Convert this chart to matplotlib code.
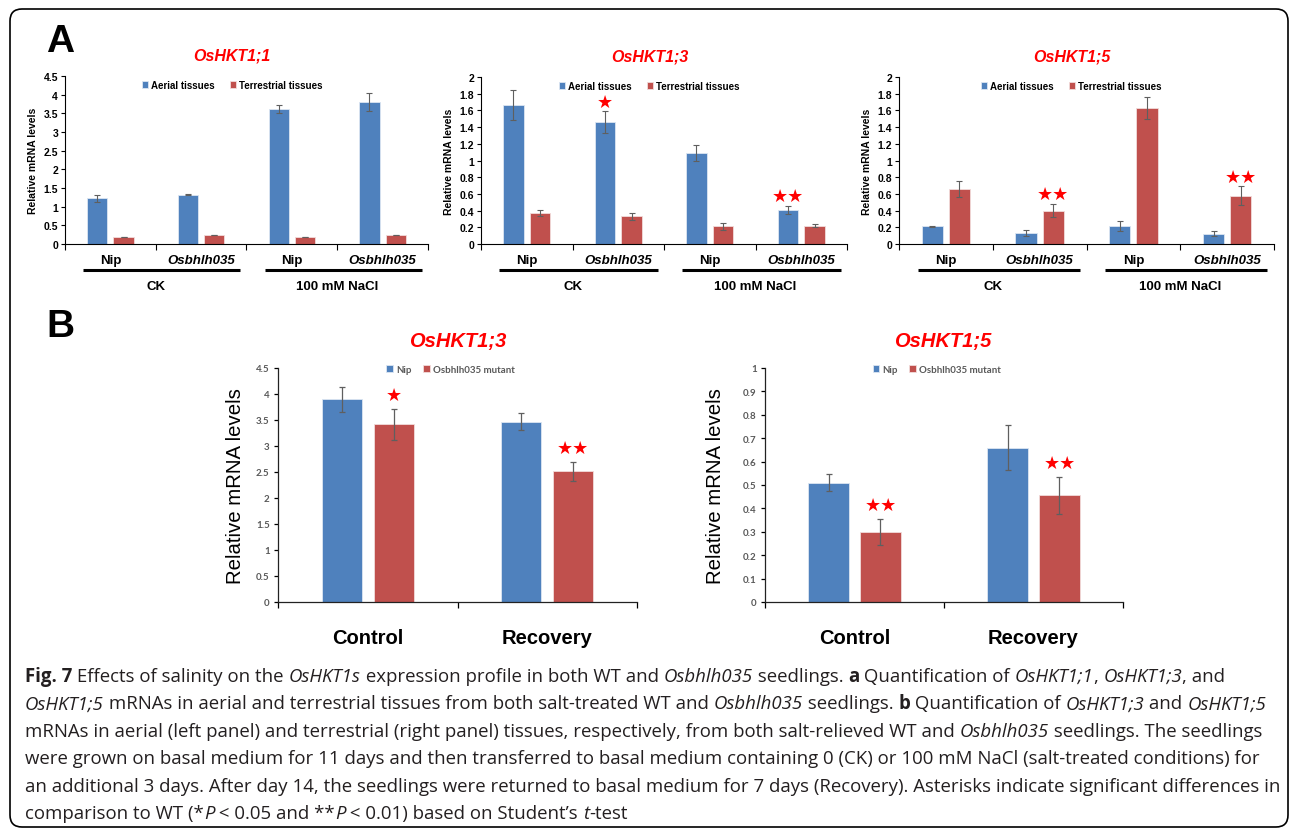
import numpy as np
import matplotlib
matplotlib.use('Agg')
from matplotlib import pyplot as plt
from matplotlib import patches, transforms
from matplotlib.lines import Line2D

W, H = 1290, 829

# ---------------- panel A data ----------------
genotypes_a = ['Nip', 'Osbhlh035', 'Nip', 'Osbhlh035']
conditions_a = ['CK', '100 mM NaCl']
legend_a = ['Aerial tissues', 'Terrestrial tissues']

hkt11_aerial = [1.22, 1.32, 3.62, 3.80]
hkt11_aerial_err = [0.09, 0.01, 0.10, 0.24]
hkt11_terr = [0.19, 0.24, 0.19, 0.24]
hkt11_terr_err = [0.01, 0.01, 0.01, 0.01]
hkt11_sig_aerial = ['', '', '', '']
hkt11_sig_terr = ['', '', '', '']

hkt13_aerial = [1.67, 1.46, 1.09, 0.41]
hkt13_aerial_err = [0.18, 0.13, 0.09, 0.05]
hkt13_terr = [0.37, 0.33, 0.21, 0.22]
hkt13_terr_err = [0.04, 0.04, 0.04, 0.02]
hkt13_sig_aerial = ['', '*', '', '**']
hkt13_sig_terr = ['', '', '', '']

hkt15_aerial = [0.21, 0.13, 0.21, 0.12]
hkt15_aerial_err = [0.005, 0.04, 0.06, 0.03]
hkt15_terr = [0.66, 0.40, 1.63, 0.58]
hkt15_terr_err = [0.10, 0.08, 0.13, 0.11]
hkt15_sig_aerial = ['', '', '', '']
hkt15_sig_terr = ['', '**', '', '**']

# ---------------- panel B data ----------------
treatments_b = ['Control', 'Recovery']
legend_b = ['Nip', 'Osbhlh035 mutant']

b13_nip = [3.90, 3.47]
b13_nip_err = [0.24, 0.17]
b13_mut = [3.42, 2.51]
b13_mut_err = [0.30, 0.19]
b13_sig = ['*', '**']

b15_nip = [0.51, 0.66]
b15_nip_err = [0.035, 0.097]
b15_mut = [0.30, 0.456]
b15_mut_err = [0.055, 0.078]
b15_sig = ['**', '**']

caption = [
    [('Fig. 7', 'b'), (' Effects of salinity on the ', ''), ('OsHKT1s', 'i'),
     (' expression profile in both WT and ', ''), ('Osbhlh035', 'i'), (' seedlings. ', ''),
     ('a', 'b'), (' Quantification of ', ''), ('OsHKT1;1', 'i'), (', ', ''),
     ('OsHKT1;3', 'i'), (', and', '')],
    [('OsHKT1;5', 'i'), (' mRNAs in aerial and terrestrial tissues from both salt-treated WT and ', ''),
     ('Osbhlh035', 'i'), (' seedlings. ', ''), ('b', 'b'), (' Quantification of ', ''),
     ('OsHKT1;3', 'i'), (' and ', ''), ('OsHKT1;5', 'i')],
    [('mRNAs in aerial (left panel) and terrestrial (right panel) tissues, respectively, '
      'from both salt-relieved WT and ', ''), ('Osbhlh035', 'i'), (' seedlings. The seedlings', '')],
    [('were grown on basal medium for 11 days and then transferred to basal medium containing '
      '0 (CK) or 100 mM NaCl (salt-treated conditions) for', '')],
    [('an additional 3 days. After day 14, the seedlings were returned to basal medium for 7 days '
      '(Recovery). Asterisks indicate significant differences in', '')],
    [('comparison to WT (*', ''), ('P', 'i'), (' < 0.05 and **', ''), ('P', 'i'),
     (' < 0.01) based on Student\u2019s ', ''), ('t', 'i'), ('-test', '')],
]

BLUE = '#4f81bd'
RED = '#c0504d'
ERR = '#5f5f5f'
ARIAL = 'Liberation Sans'
CAP_FONT = 'Open Sans'


def px_axes(fig, x0, y0, x1, y1):
    return fig.add_axes([x0 / W, 1 - y1 / H, (x1 - x0) / W, (y1 - y0) / H])


def draw_bars(ax, a, a_err, b, b_err, labels, capsize, elw):
    x = np.arange(len(a))
    ekw = dict(ecolor=ERR, elinewidth=elw, capsize=capsize, capthick=elw)
    ax.bar(x - 0.145, a, 0.225, color=BLUE, edgecolor='#dce6f2', linewidth=0.6,
           yerr=a_err, error_kw=ekw, label=labels[0])
    ax.bar(x + 0.145, b, 0.225, color=RED, edgecolor='#f2dcdb', linewidth=0.6,
           yerr=b_err, error_kw=ekw, label=labels[1])


def draw_stars(ax, xs, tops, errs, marks, dy):
    for x, t, e, m in zip(xs, tops, errs, marks):
        if m:
            ax.annotate('\u2605' * len(m), (x, t + e), xytext=(0, dy),
                        textcoords='offset points', ha='center', va='center',
                        color='#ff0000', fontsize=13, family='DejaVu Sans')


def panel_a(ax, title, aerial, aerial_err, terr, terr_err, sig_a, sig_t, ymax, step):
    x = np.arange(4)
    draw_bars(ax, aerial, aerial_err, terr, terr_err, legend_a, 2.2, 0.8)
    draw_stars(ax, x - 0.145, aerial, aerial_err, sig_a, 7)
    draw_stars(ax, x + 0.145, terr, terr_err, sig_t, 7)

    ax.set_xlim(-0.5, 3.5)
    ax.set_ylim(0, ymax)
    ax.set_yticks(np.arange(0, ymax + step / 2, step))
    ax.yaxis.set_major_formatter(lambda v, p: f'{v:g}')
    for s in ['top', 'right']:
        ax.spines[s].set_visible(False)
    for s in ['left', 'bottom']:
        ax.spines[s].set_linewidth(0.8)

    ax.set_xticks(x)
    ax.set_xticklabels(genotypes_a, fontsize=9.5, fontweight='bold', family=ARIAL)
    for lab in ax.get_xticklabels():
        if lab.get_text() != 'Nip':
            lab.set_fontstyle('italic')
    ax.set_xticks(np.arange(-0.5, 4, 1), minor=True)
    ax.tick_params(axis='x', which='major', length=0, pad=7)
    ax.tick_params(axis='x', which='minor', length=4, width=0.8, direction='out')
    ax.tick_params(axis='y', length=3, width=0.8, pad=2)
    for lab in ax.get_yticklabels():
        lab.set_fontsize(7.5)
        lab.set_fontweight('bold')
        lab.set_family(ARIAL)

    axw = ax.get_position().width * W
    axh = ax.get_position().height * H
    ax.set_ylabel('Relative mRNA levels', fontsize=7.5, fontweight='bold', family=ARIAL)
    ax.yaxis.set_label_coords(-27 / axw, 0.5)

    tr = ax.get_xaxis_transform()
    for i, cond in enumerate(conditions_a):
        ax.add_line(Line2D([2 * i - 0.3, 2 * i + 1.43], [-26 / axh, -26 / axh], transform=tr,
                           color='k', lw=2.2, clip_on=False, solid_capstyle='butt'))
        ax.text(2 * i + 0.5, -42 / axh, cond, transform=tr, ha='center', va='center',
                fontsize=9.5, fontweight='bold', family=ARIAL)

    ax.text(0.46, 1 + 21 / axh, title, transform=ax.transAxes, ha='center', va='center',
            fontsize=11.5, fontweight='bold', fontstyle='italic', color='#ff0000', family=ARIAL)
    ax.legend(ncol=2, loc='upper center', bbox_to_anchor=(0.46, 1.0), frameon=False,
              prop=dict(family=ARIAL, weight='bold', size=7), handlelength=0.6,
              handleheight=0.6, handletextpad=0.3, columnspacing=1.6, borderaxespad=0.0)


def panel_b(ax, title, nip, nip_err, mut, mut_err, sig, ymax, step, label_off, title_x):
    x = np.arange(2)
    draw_bars(ax, nip, nip_err, mut, mut_err, legend_b, 2.0, 0.9)
    draw_stars(ax, x + 0.145, mut, mut_err, sig, 10)

    ax.set_xlim(-0.5, 1.5)
    ax.set_ylim(0, ymax)
    ax.set_yticks(np.arange(0, ymax + step / 2, step))
    ax.yaxis.set_major_formatter(lambda v, p: f'{v:g}')
    for s in ['top', 'right']:
        ax.spines[s].set_visible(False)
    for s in ['left', 'bottom']:
        ax.spines[s].set_linewidth(0.9)
        ax.spines[s].set_color('#222222')

    ax.set_xticks(x)
    ax.set_xticklabels(treatments_b, fontsize=14.5, fontweight='bold', family=ARIAL)
    ax.set_xticks(np.arange(-0.5, 2, 1), minor=True)
    ax.tick_params(axis='x', which='major', length=0, pad=19)
    ax.tick_params(axis='x', which='minor', length=4, width=0.9, direction='out')
    ax.tick_params(axis='y', length=3, width=0.9, pad=3, labelcolor='#595959')
    for lab in ax.get_yticklabels():
        lab.set_fontsize(7)
        lab.set_fontweight('bold')
        lab.set_family('Lato')

    axw = ax.get_position().width * W
    axh = ax.get_position().height * H
    ax.set_ylabel('Relative mRNA levels', fontsize=14.7, family=ARIAL)
    ax.yaxis.set_label_coords(-label_off / axw, 0.5)

    ax.text(title_x, 1 + 27 / axh, title, transform=ax.transAxes, ha='center', va='center',
            fontsize=14.5, fontweight='bold', fontstyle='italic', color='#ff0000', family=ARIAL)
    ax.legend(ncol=2, loc='upper center', bbox_to_anchor=(0.48, 1.03), frameon=False,
              prop=dict(family='Lato', weight='bold', size=7), labelcolor='#595959',
              handlelength=0.7, handleheight=0.7, handletextpad=0.3, columnspacing=1.2,
              borderaxespad=0.0)


def caption_line(fig, renderer, y, runs, size):
    x = 25
    for text, style in runs:
        t = fig.text(x / W, 1 - y / H, text, fontsize=size, family=CAP_FONT,
                     fontweight='bold' if 'b' in style else 'normal',
                     fontstyle='italic' if 'i' in style else 'normal',
                     va='center', ha='left', color='#231f20')
        x += t.get_window_extent(renderer).width


def main():
    fig = plt.figure(figsize=(W / 100, H / 100), dpi=100)
    renderer = fig.canvas.get_renderer()

    frame = patches.FancyBboxPatch((10, 1), 1278, 818,
                                   boxstyle='round,pad=0,rounding_size=12',
                                   transform=transforms.IdentityTransform(),
                                   fill=False, ec='k', lw=1.2)
    fig.add_artist(frame)

    ax1 = px_axes(fig, 65, 77, 428, 245)
    ax2 = px_axes(fig, 481, 78, 847, 245)
    ax3 = px_axes(fig, 899, 78, 1274, 245)
    panel_a(ax1, 'OsHKT1;1', hkt11_aerial, hkt11_aerial_err, hkt11_terr, hkt11_terr_err,
            hkt11_sig_aerial, hkt11_sig_terr, 4.5, 0.5)
    panel_a(ax2, 'OsHKT1;3', hkt13_aerial, hkt13_aerial_err, hkt13_terr, hkt13_terr_err,
            hkt13_sig_aerial, hkt13_sig_terr, 2.0, 0.2)
    panel_a(ax3, 'OsHKT1;5', hkt15_aerial, hkt15_aerial_err, hkt15_terr, hkt15_terr_err,
            hkt15_sig_aerial, hkt15_sig_terr, 2.0, 0.2)

    ax4 = px_axes(fig, 278, 369, 637, 603)
    ax5 = px_axes(fig, 765, 369, 1123, 603)
    panel_b(ax4, 'OsHKT1;3', b13_nip, b13_nip_err, b13_mut, b13_mut_err, b13_sig,
            4.5, 0.5, 33, 0.5)
    panel_b(ax5, 'OsHKT1;5', b15_nip, b15_nip_err, b15_mut, b15_mut_err, b15_sig,
            1.0, 0.1, 40, 0.497)

    fig.text(60 / W, 1 - 42 / H, 'A', fontsize=28, fontweight='bold', family=ARIAL,
             ha='center', va='center')
    fig.text(60 / W, 1 - 327 / H, 'B', fontsize=28, fontweight='bold', family=ARIAL,
             ha='center', va='center')

    for i, runs in enumerate(caption):
        caption_line(fig, renderer, 677 + 27.4 * i, runs, 13.4)

    fig.savefig('out.png', dpi=100)


if __name__ == '__main__':
    main()
